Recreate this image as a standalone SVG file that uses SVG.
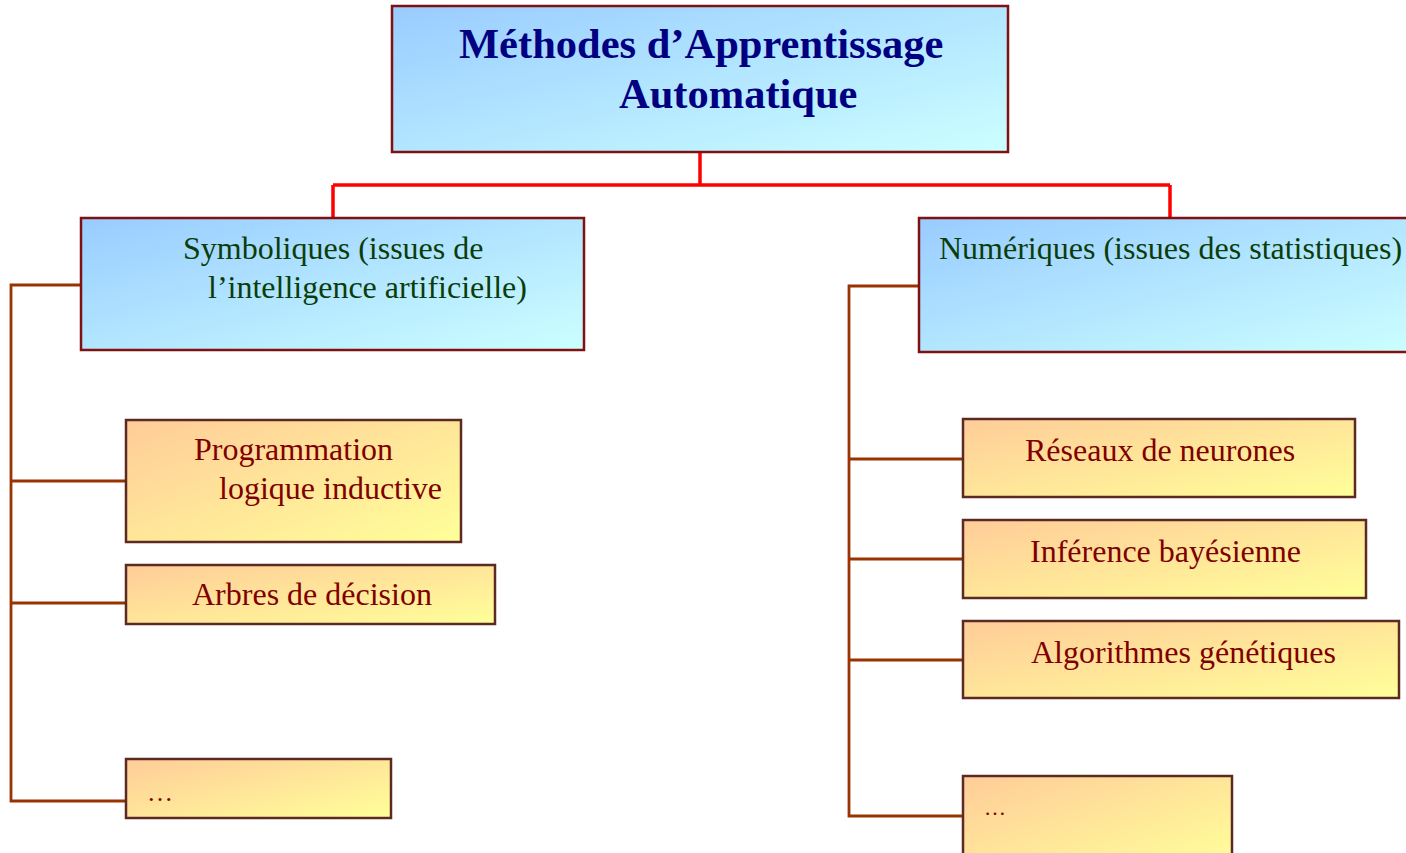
<svg xmlns="http://www.w3.org/2000/svg" width="1406" height="853" viewBox="0 0 1406 853">
  <defs>
    <linearGradient id="gBlue" x1="0" y1="0" x2="1" y2="1">
      <stop offset="0" stop-color="#99ccff"/>
      <stop offset="1" stop-color="#ccffff"/>
    </linearGradient>
    <linearGradient id="gYellow" x1="0" y1="0" x2="1" y2="1">
      <stop offset="0" stop-color="#ffcc99"/>
      <stop offset="1" stop-color="#ffff99"/>
    </linearGradient>
    <style>
      .blue { fill: url(#gBlue); stroke: #7f1111; stroke-width: 2.5; }
      .yellow { fill: url(#gYellow); stroke: #5c2a22; stroke-width: 2.5; }
      .title { font-family: "Liberation Serif", "Times New Roman", serif; font-size: 42.5px; font-weight: bold; fill: #000080; }
      .cat { font-family: "Liberation Serif", "Times New Roman", serif; font-size: 32px; fill: #0b3d0b; }
      .leaf { font-family: "Liberation Serif", "Times New Roman", serif; font-size: 32px; fill: #800000; }
      .dots { font-family: "Liberation Serif", "Times New Roman", serif; font-size: 26px; fill: #800000; }
      .trunk { fill: none; stroke: #ff0000; stroke-width: 3.5; }
      .branch { fill: none; stroke: #993300; stroke-width: 2.8; }
    </style>
  </defs>

  <!-- connectors -->
  <g id="connectors">
    <path class="trunk" d="M700 152 V185 M333 185 H1170 M333 185 V218 M1170 185 V218"/>
    <path class="branch" d="M81 285 H11 V801 H126 M11 481 H126 M11 603 H126"/>
    <path class="branch" d="M919 286 H849 V816 H963 M849 459 H963 M849 559 H963 M849 660 H963"/>
  </g>

  <!-- root -->
  <g id="root">
    <rect class="blue" x="392" y="6" width="616" height="146"/>
    <text class="title" x="459" y="58">Méthodes d’Apprentissage</text>
    <text class="title" x="619" y="108">Automatique</text>
  </g>

  <!-- symbolic branch -->
  <g id="symboliques">
    <rect class="blue" x="81" y="218" width="503" height="132"/>
    <text class="cat" x="183" y="259">Symboliques (issues de</text>
    <text class="cat" x="208" y="298">l’intelligence artificielle)</text>
  </g>
  <g id="programmation-logique">
    <rect class="yellow" x="126" y="420" width="335" height="122"/>
    <text class="leaf" x="194" y="460">Programmation</text>
    <text class="leaf" x="219" y="499">logique inductive</text>
  </g>
  <g id="arbres-decision">
    <rect class="yellow" x="126" y="565" width="369" height="59"/>
    <text class="leaf" x="192" y="605">Arbres de décision</text>
  </g>
  <g id="symboliques-autres">
    <rect class="yellow" x="126" y="759" width="265" height="59"/>
    <text class="dots" x="147" y="801">…</text>
  </g>

  <!-- numeric branch -->
  <g id="numeriques">
    <rect class="blue" x="919" y="218" width="500" height="134"/>
    <text class="cat" x="939" y="259">Numériques (issues des statistiques)</text>
  </g>
  <g id="reseaux-neurones">
    <rect class="yellow" x="963" y="419" width="392" height="78"/>
    <text class="leaf" x="1025" y="461">Réseaux de neurones</text>
  </g>
  <g id="inference-bayesienne">
    <rect class="yellow" x="963" y="520" width="403" height="78"/>
    <text class="leaf" x="1030" y="562">Inférence bayésienne</text>
  </g>
  <g id="algorithmes-genetiques">
    <rect class="yellow" x="963" y="621" width="436" height="77"/>
    <text class="leaf" x="1031" y="663">Algorithmes génétiques</text>
  </g>
  <g id="numeriques-autres">
    <rect class="yellow" x="963" y="776" width="269" height="90"/>
    <text class="dots" x="984" y="815" style="font-size:22px">…</text>
  </g>
</svg>
